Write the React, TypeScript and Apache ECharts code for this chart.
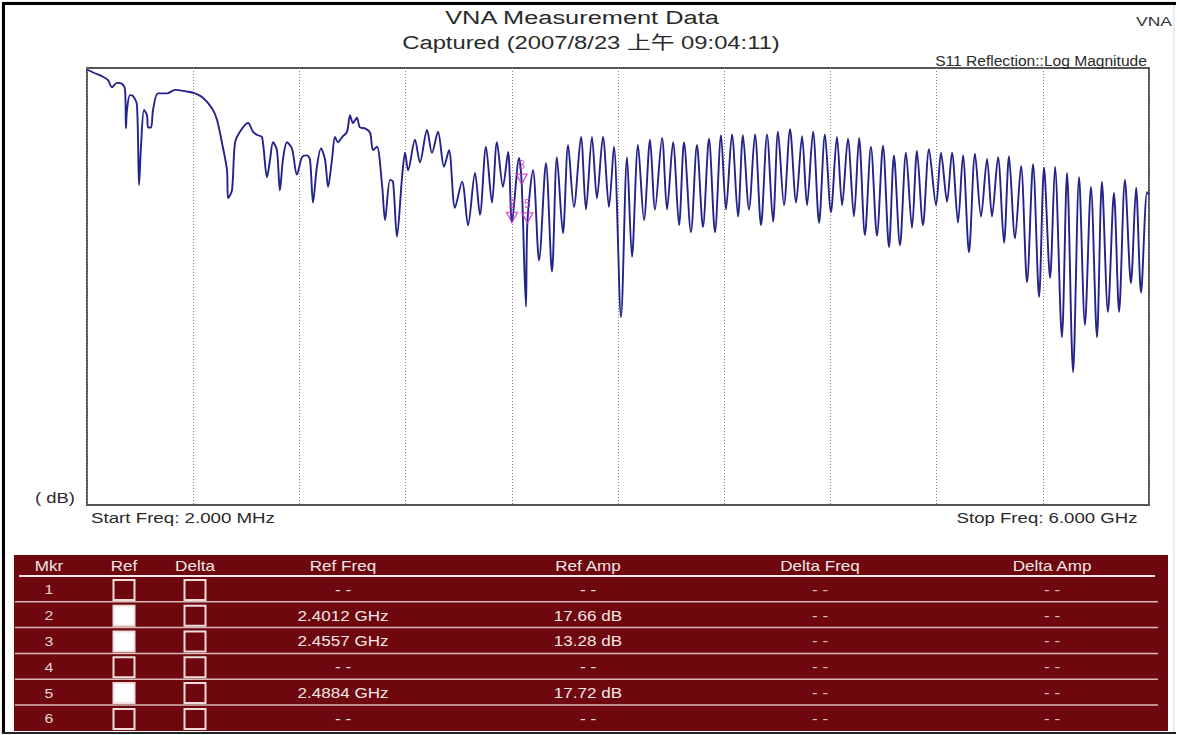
import React, { useEffect, useRef } from "react";
import * as echarts from "echarts";

// ---- Data ----
const traceGHz = [
  0.002, 0.045, 0.09, 0.119, 0.141, 0.169, 0.198, 0.215, 0.22, 0.226, 0.243, 0.26, 0.282, 0.294, 0.305, 0.322, 0.339, 0.345, 0.362, 0.373,
  0.401, 0.452, 0.497, 0.565, 0.61, 0.655, 0.706, 0.734, 0.763, 0.791, 0.797, 0.819, 0.836, 0.864, 0.91, 0.938, 0.966, 0.989, 1.017, 1.034,
  1.051, 1.073, 1.09, 1.107, 1.13, 1.158, 1.186, 1.215, 1.243, 1.26, 1.277, 1.299, 1.322, 1.345, 1.362, 1.384, 1.401, 1.418, 1.441, 1.469,
  1.486, 1.503, 1.525, 1.542, 1.571, 1.599, 1.616, 1.638, 1.667, 1.684, 1.712, 1.729, 1.751, 1.78, 1.797, 1.814, 1.853, 1.881, 1.921, 1.949,
  1.983, 2.017, 2.045, 2.079, 2.119, 2.153, 2.192, 2.22, 2.254, 2.288, 2.316, 2.35, 2.379, 2.401, 2.441, 2.456, 2.48, 2.488, 2.52, 2.554,
  2.593, 2.627, 2.655, 2.689, 2.718, 2.751, 2.791, 2.819, 2.853, 2.881, 2.915, 2.949, 2.977, 3.017, 3.051, 3.079, 3.113, 3.147, 3.181, 3.209,
  3.249, 3.277, 3.311, 3.345, 3.373, 3.412, 3.446, 3.48, 3.514, 3.548, 3.582, 3.61, 3.644, 3.678, 3.706, 3.74, 3.774, 3.808, 3.842, 3.876,
  3.904, 3.938, 3.972, 4.006, 4.04, 4.068, 4.102, 4.136, 4.169, 4.203, 4.237, 4.266, 4.299, 4.333, 4.362, 4.395, 4.429, 4.463, 4.497, 4.531,
  4.559, 4.593, 4.627, 4.661, 4.689, 4.723, 4.757, 4.797, 4.825, 4.859, 4.887, 4.921, 4.949, 4.983, 5.017, 5.051, 5.085, 5.113, 5.147, 5.181,
  5.209, 5.243, 5.277, 5.311, 5.345, 5.379, 5.407, 5.441, 5.469, 5.508, 5.537, 5.571, 5.605, 5.638, 5.672, 5.706, 5.734, 5.768, 5.802, 5.831,
  5.864, 5.898, 5.927, 5.955, 5.989, 6.0,
];
const traceDb = [
  0.2, 0.6, 1.0, 1.4, 2.2, 1.7, 1.8, 2.5, 6.9, 4.8, 3.1, 3.2, 4.2, 13.4, 9.0, 4.8, 5.4, 6.8, 6.8, 4.8,
  2.9, 2.9, 2.5, 2.7, 2.9, 3.4, 4.6, 5.9, 8.6, 11.7, 14.9, 14.0, 8.6, 7.3, 6.3, 7.3, 7.7, 7.9, 12.5, 10.5,
  8.5, 9.4, 14.0, 10.5, 8.5, 9.2, 12.2, 10.2, 10.0, 10.5, 15.4, 11.3, 9.2, 10.5, 13.6, 10.5, 7.9, 8.5, 7.9, 7.3,
  5.4, 6.3, 5.7, 6.8, 6.9, 7.4, 9.4, 9.0, 13.4, 17.4, 12.8, 13.0, 19.3, 12.5, 9.7, 11.7, 8.2, 10.8, 7.1, 9.7,
  7.3, 11.3, 9.4, 16.0, 13.0, 18.0, 12.0, 16.8, 9.0, 15.4, 8.5, 13.6, 9.6, 17.66, 10.3, 13.28, 27.3, 17.72, 11.7, 22.0,
  10.9, 23.3, 10.2, 18.9, 8.8, 15.9, 7.9, 16.2, 7.9, 14.9, 7.9, 15.9, 9.0, 28.5, 10.2, 21.6, 8.8, 17.4, 8.2, 16.2,
  8.0, 16.2, 8.5, 18.0, 8.5, 18.8, 8.8, 18.2, 8.1, 18.8, 7.7, 16.2, 7.6, 17.0, 7.7, 16.2, 7.6, 18.0, 7.6, 17.6,
  7.3, 15.7, 7.0, 15.4, 7.8, 15.7, 7.3, 17.7, 7.6, 16.5, 7.9, 15.7, 8.1, 17.0, 8.0, 19.1, 9.0, 19.2, 8.9, 20.5,
  10.0, 20.3, 9.7, 18.3, 9.5, 18.0, 9.3, 15.7, 9.7, 15.3, 9.7, 17.7, 10.0, 21.1, 9.8, 17.0, 10.4, 17.0, 10.2, 20.0,
  10.1, 19.5, 11.2, 24.5, 11.0, 26.2, 11.4, 24.0, 11.3, 30.8, 12.0, 34.8, 12.5, 29.4, 13.6, 30.8, 13.0, 27.9, 14.3, 27.9,
  12.8, 24.6, 13.7, 25.7, 14.2, 14.5,
];

const markerIds = [1, 2, 3, 4, 5, 6];
const markerRefOn = [false, true, true, false, true, false];
const markerDeltaOn = [false, false, false, false, false, false];
const markerFreqGHz: (number | null)[] = [null, 2.4012, 2.4557, null, 2.4884, null];
const markerAmpDb: (number | null)[] = [null, 17.66, 13.28, null, 17.72, null];
const tableHeaders = ["Mkr", "Ref", "Delta", "Ref Freq", "Ref Amp", "Delta Freq", "Delta Amp"];

const titleText = "VNA Measurement Data";
const subtitleText = "Captured (2007/8/23 上午 09:04:11)";
const measText = "S11 Reflection::Log Magnitude";
const startText = "Start Freq: 2.000 MHz";
const stopText = "Stop Freq: 6.000 GHz";
const unitText = "( dB)";
const brandText = "VNA";

const FONT = '"Liberation Sans", Arial, "Noto Sans CJK SC", sans-serif';
const STRETCH = 1.22;

let measureCtx: CanvasRenderingContext2D | null = null;
function natWidth(text: string, size: number) {
  if (!measureCtx) measureCtx = document.createElement("canvas").getContext("2d");
  if (!measureCtx) return text.length * size * 0.55;
  measureCtx.font = `${size}px ${FONT}`;
  return measureCtx.measureText(text).width || 1;
}

function txt(text: string, cx: number, cy: number, size: number, color: string, width?: number) {
  const sx = width ? width / natWidth(text, size) : STRETCH;
  return {
    type: "text",
    x: cx,
    y: cy,
    scaleX: sx,
    z: 20,
    style: {
      text,
      fill: color,
      font: `${size}px ${FONT}`,
      align: "center",
      verticalAlign: "middle",
      textAlign: "center",
      textVerticalAlign: "middle",
    },
  };
}

export default function App() {
  const ref = useRef<HTMLDivElement>(null);

  useEffect(() => {
    if (!ref.current) return;
    const chart = echarts.init(ref.current, undefined, { renderer: "svg" });

    const lineData = traceGHz.map((f, i) => [f, traceDb[i]]);
    const mkData: any[] = [];
    markerIds.forEach((id, i) => {
      const f = markerFreqGHz[i];
      const a = markerAmpDb[i];
      if (f != null && a != null && markerRefOn[i]) mkData.push({ value: [f, a], name: String(id) });
    });

    // table layout
    const tX = 14, tY = 555, tW = 1154, tH = 176;
    const headY = 566;
    const rowTop = 576;
    const rowH = 25.8;
    const colX = [49, 124, 195, 343, 588, 820, 1052];
    const textCol = "#f2e6e6";
    const g: any[] = [];

    // outer frame
    g.push({ type: "rect", shape: { x: 2, y: 2, width: 1172, height: 731 }, style: { fill: "none", stroke: "#d8d8d8", lineWidth: 1 }, z: 1 });
    g.push({ type: "line", shape: { x1: 2, y1: 3.5, x2: 1176, y2: 3.5 }, style: { stroke: "#000", lineWidth: 3 }, z: 2 });
    g.push({ type: "line", shape: { x1: 3.5, y1: 2, x2: 3.5, y2: 734 }, style: { stroke: "#000", lineWidth: 3 }, z: 2 });
    g.push({ type: "line", shape: { x1: 2, y1: 733, x2: 1176, y2: 733 }, style: { stroke: "#222", lineWidth: 2 }, z: 2 });

    // texts
    g.push(txt(titleText, 582, 18, 18, "#2a2a2a", 275));
    g.push(txt(subtitleText, 591, 43, 18, "#2a2a2a", 378));
    g.push(txt(brandText, 1154, 22, 12, "#333", 36));
    g.push(txt(measText, 1041, 61, 14, "#2a2a2a", 212));
    g.push(txt(unitText, 55, 498, 14, "#2a2a2a", 40));
    g.push(txt(startText, 183, 518, 14, "#2a2a2a", 184));
    g.push(txt(stopText, 1047, 518, 14, "#2a2a2a", 181));

    // table
    g.push({ type: "rect", shape: { x: tX, y: tY, width: tW, height: tH }, style: { fill: "#6e080e" }, z: 5 });
    g.push({ type: "line", shape: { x1: 19, y1: rowTop, x2: 1155, y2: rowTop }, style: { stroke: "#f4eaea", lineWidth: 2 }, z: 6 });
    for (let r = 1; r < 6; r++) {
      const y = rowTop + r * rowH;
      g.push({ type: "line", shape: { x1: 15, y1: y, x2: 1158, y2: y }, style: { stroke: "#d9b8b8", lineWidth: 1.5 }, z: 6 });
    }
    tableHeaders.forEach((h, i) => g.push(txt(h, colX[i], headY, 14, textCol)));
    markerIds.forEach((id, i) => {
      const cy = rowTop + i * rowH + rowH / 2 + 1;
      const f = markerFreqGHz[i];
      const a = markerAmpDb[i];
      g.push(txt(String(id), colX[0], cy, 13, "#e8d6d6"));
      g.push({
        type: "rect",
        shape: { x: colX[1] - 10.5, y: cy - 10, width: 21, height: 20 },
        style: { fill: markerRefOn[i] ? "#ffffff" : "#6e080e", stroke: "#f0dcdc", lineWidth: 2 },
        z: 7,
      });
      g.push({
        type: "rect",
        shape: { x: colX[2] - 10.5, y: cy - 10, width: 21, height: 20 },
        style: { fill: markerDeltaOn[i] ? "#ffffff" : "#6e080e", stroke: "#f0dcdc", lineWidth: 2 },
        z: 7,
      });
      g.push(txt(f != null ? `${f.toFixed(4)} GHz` : "- -", colX[3], cy, 14, textCol));
      g.push(txt(a != null ? `${a.toFixed(2)} dB` : "- -", colX[4], cy, 14, textCol));
      g.push(txt("- -", colX[5], cy, 14, "#d8c0c0"));
      g.push(txt("- -", colX[6], cy, 14, "#d8c0c0"));
    });

    chart.setOption({
      animation: false,
      backgroundColor: "#ffffff",
      grid: { left: 87, top: 68, width: 1062, height: 437, show: true, borderColor: "#555", borderWidth: 2, backgroundColor: "#fff" },
      xAxis: {
        type: "value",
        min: 0,
        max: 6,
        interval: 0.6,
        axisLine: { show: false },
        axisTick: { show: false },
        axisLabel: { show: false },
        splitLine: { show: true, lineStyle: { color: "#8a8a8a", width: 1, type: [1, 2] } },
      },
      yAxis: {
        type: "value",
        inverse: true,
        min: 0,
        max: 50,
        axisLine: { show: false },
        axisTick: { show: false },
        axisLabel: { show: false },
        splitLine: { show: false },
      },
      series: [
        {
          type: "line",
          data: lineData,
          showSymbol: false,
          symbol: "none",
          smooth: 0.3,
          lineStyle: { color: "#23238a", width: 1.9 },
          z: 3,
        },
        {
          type: "scatter",
          data: mkData,
          symbol: "triangle",
          symbolSize: [11, 10],
          symbolRotate: 180,
          symbolOffset: [0, "-50%"],
          itemStyle: { color: "rgba(255,255,255,0)", borderColor: "#cc33cc", borderWidth: 1.4 },
          label: { show: true, position: "top", formatter: "{b}", color: "#cc33cc", fontSize: 12, distance: 2 },
          z: 4,
        },
      ],
      graphic: { elements: g },
    });

    return () => chart.dispose();
  }, []);

  return (
    <div
      ref={ref}
      style={{ position: "fixed", left: 0, top: 0, width: 1177, height: 735, background: "#fff" }}
    />
  );
}
